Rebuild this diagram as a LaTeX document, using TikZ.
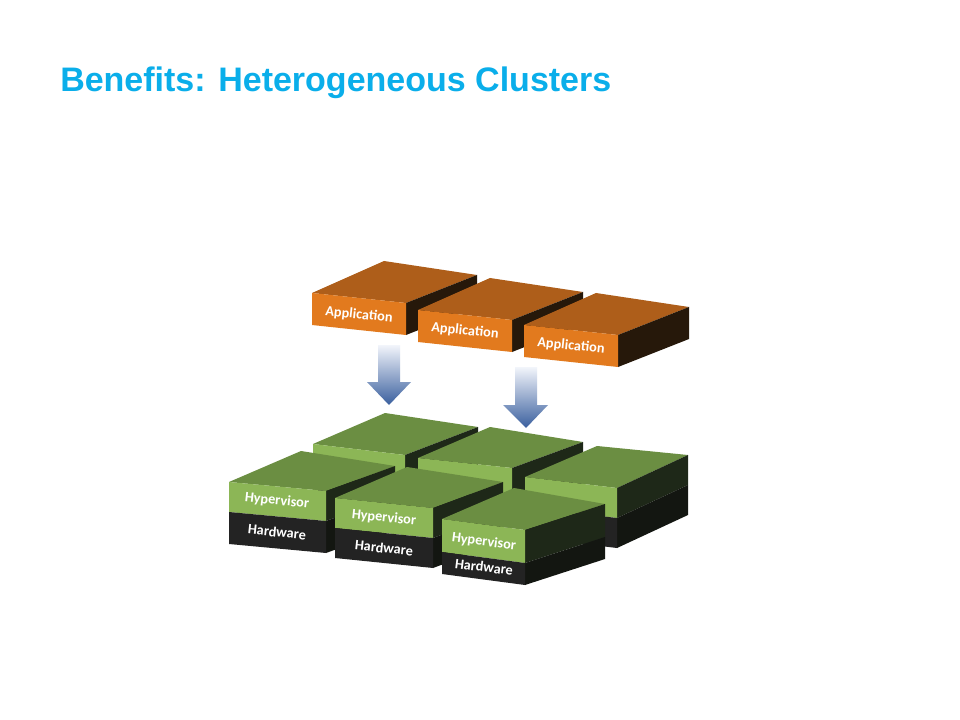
\documentclass[tikz,border=0pt]{standalone}
\usepackage{fontspec}
\newfontfamily\lblfont{Carlito}
\newfontfamily\titlefont{Liberation Sans}
\definecolor{titlecyan}{HTML}{0AAEEA}
\definecolor{appfront}{HTML}{E27A1E}
\definecolor{apptop}{HTML}{AE5E1A}
\definecolor{appside}{HTML}{26180A}
\definecolor{gtop}{HTML}{6B8E42}
\definecolor{gfront}{HTML}{8CB656}
\definecolor{gside}{HTML}{1E2818}
\definecolor{hwfront}{HTML}{232323}
\definecolor{hwside}{HTML}{131611}
\definecolor{arrtop}{HTML}{F2F5FB}
\definecolor{arrbot}{HTML}{3A5F9E}
% application block: #1,#2 = front top-left corner
\newcommand{\appblk}[2]{%
  \fill[apptop] (#1,#2) -- ++(72,-32) -- ({#1+165},{#2-18}) -- ({#1+94},{#2+10}) -- cycle;
  \fill[appside] ({#1+94},{#2+10}) -- ({#1+165},{#2-18}) -- ({#1+165},{#2+14}) -- ({#1+94},{#2+42}) -- cycle;
  \fill[appfront] (#1,#2) -- ({#1+94},{#2+10}) -- ({#1+94},{#2+42}) -- (#1,{#2+32}) -- cycle;
}
% server block: x y wx wy h1 h2 sx sy
\newcommand{\srvblk}[8]{%
  \fill[gtop] (#1,#2) -- ++(72,-31) -- ({#1+#3+#7},{#2+#4+#8}) -- ({#1+#3},{#2+#4}) -- cycle;
  \fill[gside] ({#1+#3},{#2+#4}) -- ++(#7,#8) -- ++(0,#5) -- ++({-(#7)},{-(#8)}) -- cycle;
  \fill[hwside] ({#1+#3},{#2+#4+#5}) -- ++(#7,#8) -- ++(0,#6) -- ++({-(#7)},{-(#8)}) -- cycle;
  \fill[gfront] (#1,#2) -- ++(#3,#4) -- ++(0,#5) -- ++({-(#3)},{-(#4)}) -- cycle;
  \fill[hwfront] (#1,{#2+#5}) -- ++(#3,#4) -- ++(0,#6) -- ++({-(#3)},{-(#4)}) -- cycle;
}
\begin{document}
\begin{tikzpicture}[x=0.75pt,y=-0.75pt,
  lbl/.style={text=white,font=\lblfont\bfseries\fontsize{10.7}{12}\selectfont,inner sep=0pt},
  blockarrow/.style={top color=arrtop,bottom color=arrbot}]
\useasboundingbox[fill=white] (0,0) rectangle (960,720);
\node[anchor=base west,text=titlecyan,inner sep=0pt,
      font=\titlefont\bfseries\fontsize{25.5}{30}\selectfont] (title) at (60,92)
      {Benefits: Heterogeneous Clusters};
% applications
\appblk{312}{293}
\appblk{418}{310}
\appblk{524}{325}
\node[lbl,rotate=-6] (app1) at (359,315) {Application};
\node[lbl,rotate=-6] (app2) at (465,331) {Application};
\node[lbl,rotate=-6] (app3) at (571,346) {Application};
% arrows
\shade[blockarrow] (378,345) -- (400,345) -- (400,382) -- (411,382) -- (389,405) -- (367,382) -- (378,382) -- cycle;
\shade[blockarrow] (515,367) -- (537,367) -- (537,405) -- (548,405) -- (526,428) -- (503,405) -- (515,405) -- cycle;
% back row servers
\srvblk{313}{444}{92}{11}{30}{30}{73}{-28}
\srvblk{418}{458}{94}{10}{30}{30}{71}{-26}
\srvblk{525}{477}{92}{11}{30}{30}{71}{-33}
% front row servers
\srvblk{229}{482}{97}{9}{30}{32}{69}{-25}
\srvblk{335}{498}{98}{10}{30}{30}{70}{-26}
\srvblk{442}{519}{83}{11}{33}{22}{80}{-26}
\node[lbl,rotate=-6] (hypA) at (277,501) {Hypervisor};
\node[lbl,rotate=-6] (hwA) at (277,532) {Hardware};
\node[lbl,rotate=-6] (hypB) at (384,518) {Hypervisor};
\node[lbl,rotate=-6] (hwB) at (384,548) {Hardware};
\node[lbl,rotate=-7] (hypC) at (484,542) {Hypervisor};
\node[lbl,rotate=-7] (hwC) at (484,567) {Hardware};
\end{tikzpicture}
\end{document}
